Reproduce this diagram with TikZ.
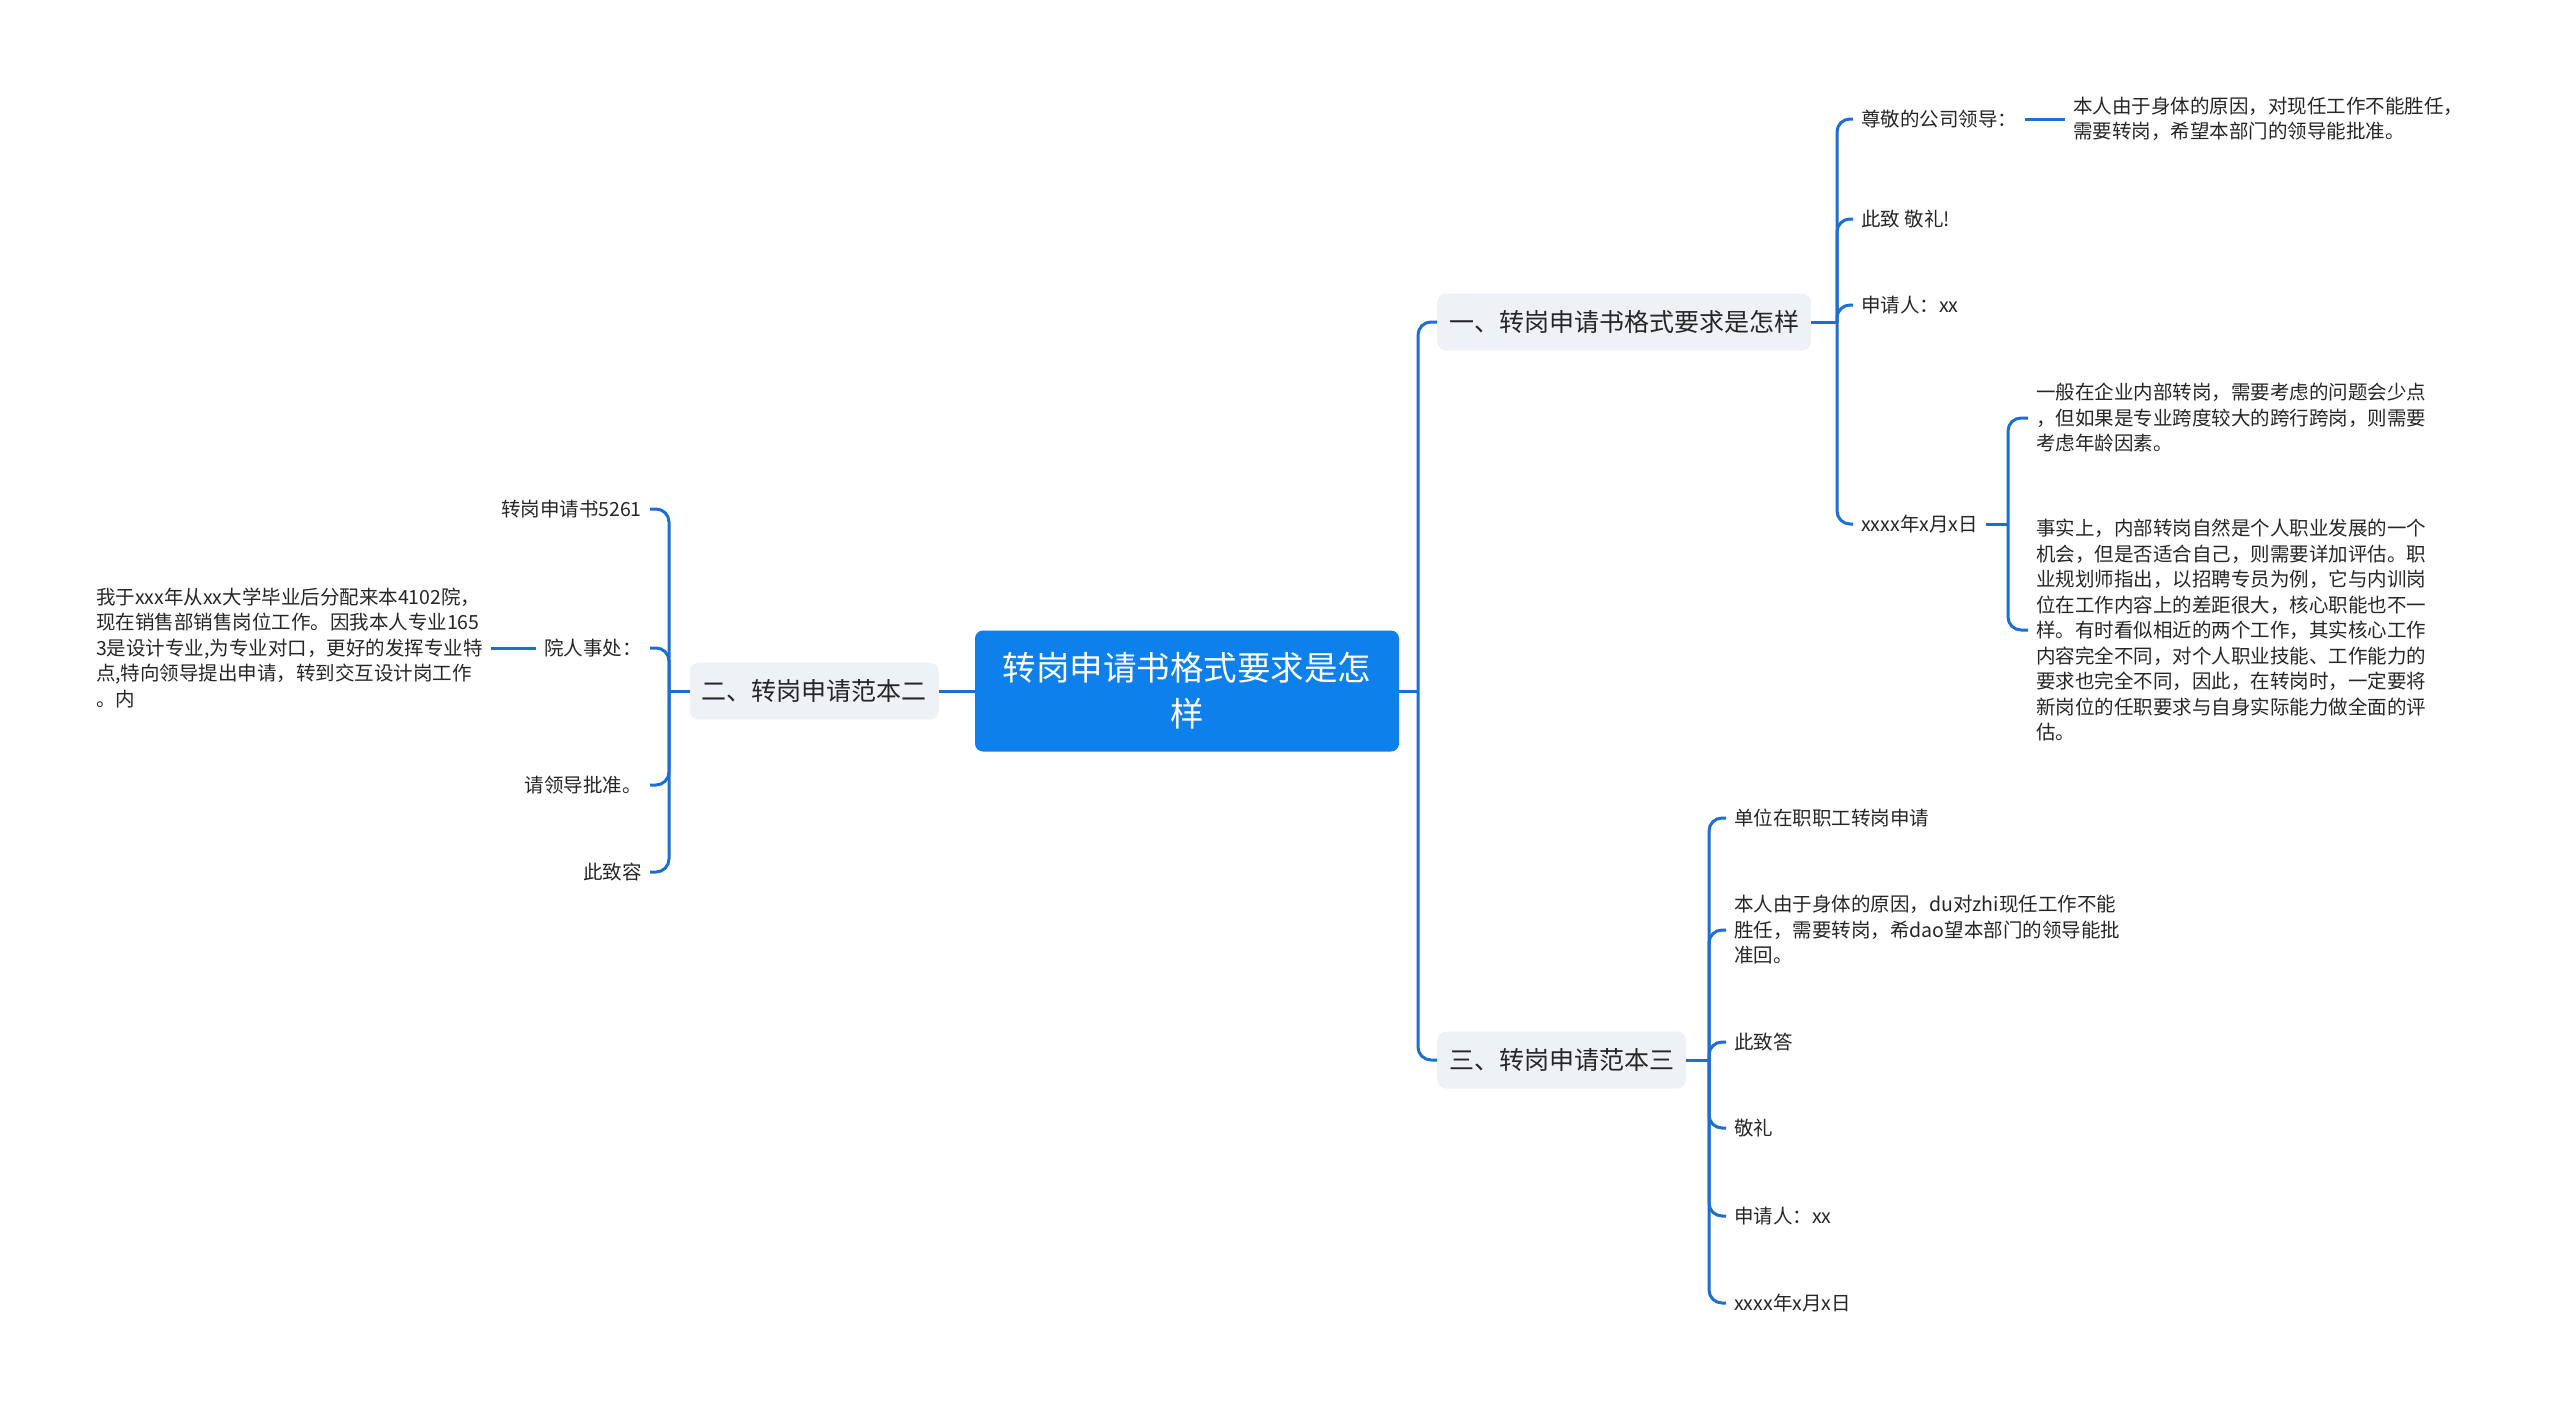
\documentclass[tikz,border=0pt]{standalone}
\usepackage{fontspec}
\setmainfont{Noto Sans CJK SC}
\usepackage{tikz}
\usetikzlibrary{positioning}
\definecolor{sBlue}{HTML}{0E80EC}
\definecolor{sLink}{HTML}{1C6FD1}
\definecolor{sGray}{HTML}{EEF1F5}
\definecolor{sText}{HTML}{262626}

\tikzset{
  rootbox/.style={fill=sBlue, rounded corners=8pt, text=white, align=center,
    font=\fontsize{33.5}{46}\selectfont, minimum width=424pt, minimum height=121pt, inner sep=0pt},
  topic/.style={fill=sGray, rounded corners=9pt, text=sText, font=\fontsize{25}{30}\selectfont,
    minimum height=57pt, inner xsep=12pt, inner ysep=0pt},
  leaf/.style={text=sText, font=\fontsize{19.5}{25.5}\selectfont, align=left, inner xsep=8pt, inner ysep=2pt},
  link/.style={draw=sLink, line width=3pt, rounded corners=13pt},
}

\begin{document}
\begin{tikzpicture}[x=1pt, y=-1pt]
  \useasboundingbox (0,0) rectangle (2560,1409);

  % centre
  \node[rootbox] (root) at (1187,691) {转岗申请书格式要求是怎\\样};

  % topics
  \node[topic, anchor=west] (t1) at (1437,322) {一、转岗申请书格式要求是怎样};
  \node[topic, anchor=east] (t2) at (939,691) {二、转岗申请范本二};
  \node[topic, anchor=west] (t3) at (1437,1060) {三、转岗申请范本三};

  \coordinate (sR) at (1418,691);
  \draw[link] (root.east) -- (sR);
  \draw[link] (sR) |- (t1.west);
  \draw[link] (sR) |- (t3.west);
  \draw[link] (root.west) -- (t2.east);

  % topic one
  \node[leaf, anchor=west] (a1) at (1853,119) {尊敬的公司领导：};
  \node[leaf, anchor=west] (a2) at (1853,219) {此致 敬礼!};
  \node[leaf, anchor=west] (a3) at (1853,305) {申请人：xx};
  \node[leaf, anchor=west] (a4) at (1853,524) {xxxx年x月x日};
  \node[leaf, anchor=west] (g1) at (2065,119) {本人由于身体的原因，对现任工作不能胜任，\\需要转岗，希望本部门的领导能批准。};
  \node[leaf, anchor=west] (g2) at (2028,418) {一般在企业内部转岗，需要考虑的问题会少点\\，但如果是专业跨度较大的跨行跨岗，则需要\\考虑年龄因素。};
  \node[leaf, anchor=west] (g3) at (2028,630) {事实上，内部转岗自然是个人职业发展的一个\\机会，但是否适合自己，则需要详加评估。职\\业规划师指出，以招聘专员为例，它与内训岗\\位在工作内容上的差距很大，核心职能也不一\\样。有时看似相近的两个工作，其实核心工作\\内容完全不同，对个人职业技能、工作能力的\\要求也完全不同，因此，在转岗时，一定要将\\新岗位的任职要求与自身实际能力做全面的评\\估。};

  \coordinate (s1) at (1837,322);
  \draw[link] (t1.east) -- (s1);
  \foreach \n in {a1,a2,a3,a4}
    \draw[link] (s1) |- (\n.west);
  \draw[link] (a1.east) -- (g1.west);
  \coordinate (s4) at (2008,524);
  \draw[link] (a4.east) -- (s4);
  \draw[link] (s4) |- (g2.west);
  \draw[link] (s4) |- (g3.west);

  % topic two
  \node[leaf, anchor=east] (l1) at (650,509) {转岗申请书5261};
  \node[leaf, anchor=east] (l2) at (650,648) {院人事处：};
  \node[leaf, anchor=east] (l3) at (650,785) {请领导批准。};
  \node[leaf, anchor=east] (l4) at (650,872) {此致容};
  \node[leaf, anchor=east] (m1) at (491,648) {我于xxx年从xx大学毕业后分配来本4102院，\\现在销售部销售岗位工作。因我本人专业165\\3是设计专业,为专业对口，更好的发挥专业特\\点,特向领导提出申请，转到交互设计岗工作\\。内};

  \coordinate (s2) at (669,691);
  \draw[link] (t2.west) -- (s2);
  \foreach \n in {l1,l2,l3,l4}
    \draw[link] (s2) |- (\n.east);
  \draw[link] (l2.west) -- (m1.east);

  % topic three
  \node[leaf, anchor=west] (b1) at (1726,818) {单位在职职工转岗申请};
  \node[leaf, anchor=west] (b2) at (1726,930) {本人由于身体的原因，du对zhi现任工作不能\\胜任，需要转岗，希dao望本部门的领导能批\\准回。};
  \node[leaf, anchor=west] (b3) at (1726,1042) {此致答};
  \node[leaf, anchor=west] (b4) at (1726,1128) {敬礼};
  \node[leaf, anchor=west] (b5) at (1726,1216) {申请人：xx};
  \node[leaf, anchor=west] (b6) at (1726,1303) {xxxx年x月x日};

  \coordinate (s3) at (1709,1060);
  \draw[link] (t3.east) -- (s3);
  \foreach \n in {b1,b2,b3,b4,b5,b6}
    \draw[link] (s3) |- (\n.west);
\end{tikzpicture}
\end{document}
